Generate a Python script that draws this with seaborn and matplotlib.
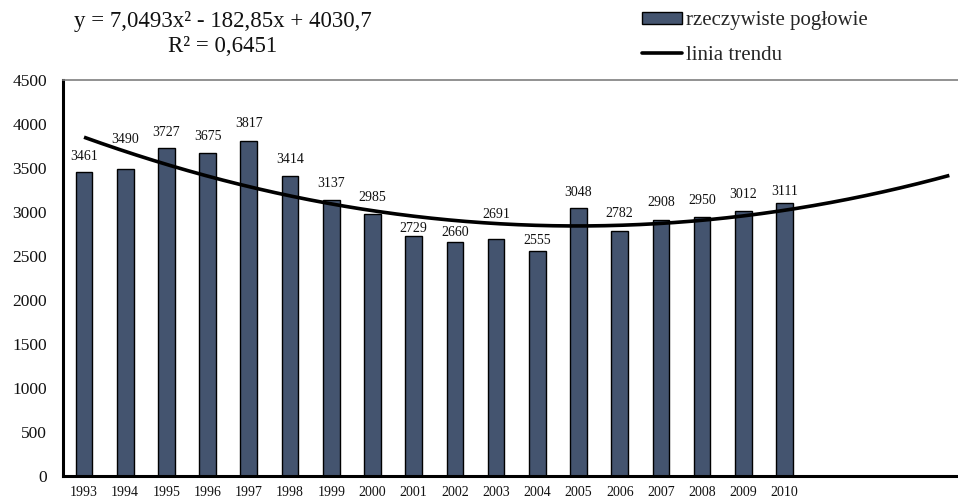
import numpy as np
import pandas as pd
import matplotlib
matplotlib.use("Agg")
import matplotlib.pyplot as plt
from matplotlib.patches import Patch
from matplotlib.lines import Line2D
import seaborn as sns

# Herd size per year
years = ["1993", "1994", "1995", "1996", "1997", "1998", "1999", "2000", "2001",
         "2002", "2003", "2004", "2005", "2006", "2007", "2008", "2009", "2010"]
herd = [3461, 3490, 3727, 3675, 3817, 3414, 3137, 2985, 2729,
        2660, 2691, 2555, 3048, 2782, 2908, 2950, 3012, 3111]

# Quadratic trend y = a*x^2 + b*x + c, with x = 1, 2, ... (periods)
trend_a, trend_b, trend_c = 7.0493, -182.85, 4030.7
trend_r2 = "0,6451"
trend_periods = 22

# Vertical lift of each value label above its bar (pixels), nudged off the trend curve
label_lift_px = [15, 30, 16, 17, 17, 16, 17, 16, 8, 10, 25, 11, 16, 18, 18, 16, 17, 11]

bar_color = "#44546f"

sns.set_theme(style="white")
plt.rcParams["font.family"] = ["Liberation Serif", "DejaVu Serif"]

fig = plt.figure(figsize=(9.58, 5.0), dpi=100)
ax = fig.add_axes([63 / 958, 1 - 476 / 500, 1 - 63 / 958, (476 - 80.5) / 500])

df = pd.DataFrame({"rok": years, "pogłowie": herd})
sns.barplot(data=df, x="rok", y="pogłowie", color=bar_color, saturation=1,
            edgecolor="black", linewidth=1.0, width=0.405, ax=ax)

for i, (v, lift) in enumerate(zip(herd, label_lift_px)):
    ax.annotate(str(v), xy=(i, v), xytext=(0, lift * 0.72), textcoords="offset points",
                ha="center", va="center", fontsize=10, color="#111111")

# Trend curve over the data years plus forecast periods
t = np.linspace(1, trend_periods, 300)
ax.plot(t - 1, trend_a * t ** 2 + trend_b * t + trend_c, color="black", lw=2.6,
        solid_capstyle="butt")

ax.set_xlim(-0.51, 21.21)
ax.set_ylim(0, 4500)
ax.set_yticks(range(0, 4501, 500))
ax.set_xlabel("")
ax.set_ylabel("")
ax.tick_params(axis="y", labelsize=12.5, pad=11.5, length=0, colors="#111111")
ax.tick_params(axis="x", labelsize=10, pad=7, length=0, colors="#111111")

for side in ("left", "bottom"):
    ax.spines[side].set_color("black")
    ax.spines[side].set_linewidth(2.2)
ax.spines["top"].set_color("#7f7f7f")
ax.spines["top"].set_linewidth(1.2)
ax.spines["right"].set_visible(False)

# Trend equation text
fig.text(223 / 958, 1 - 21 / 500, "y = 7,0493x² - 182,85x + 4030,7",
         ha="center", va="center", fontsize=16.5, color="#111111")
fig.text(223 / 958, 1 - 47 / 500, f"R² = {trend_r2}",
         ha="center", va="center", fontsize=16.5, color="#111111")

handles = [Patch(facecolor=bar_color, edgecolor="black", linewidth=1.0),
           Line2D([0], [0], color="black", lw=2.6)]
fig.legend(handles, ["rzeczywiste pogłowie", "linia trendu"],
           loc="upper left", bbox_to_anchor=(634 / 958, 1 - 3 / 500),
           frameon=False, fontsize=15, handlelength=1.9, handleheight=0.55,
           handletextpad=0.2, labelspacing=0.75, borderaxespad=0)

fig.savefig("out.png", dpi=100)
